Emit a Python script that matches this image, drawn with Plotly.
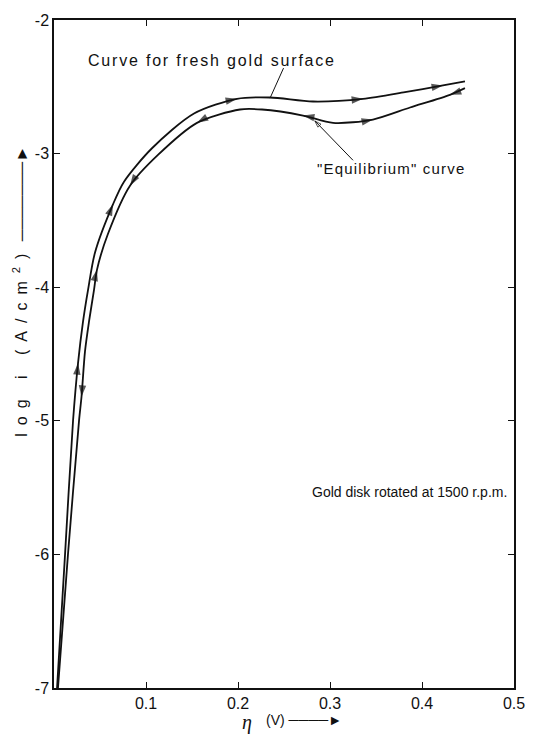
import plotly.graph_objects as go

# ---------------- data ----------------
eta_fresh = [0.0033, 0.0120, 0.0207, 0.0261, 0.0315, 0.0370, 0.0446, 0.0641, 0.0761,
             0.1065, 0.1522, 0.1989, 0.2348, 0.2815, 0.3359, 0.3815, 0.4228, 0.4467]
logi_fresh = [-7.00, -6.00, -5.00, -4.57, -4.26, -4.02, -3.74, -3.38, -3.21,
              -2.96, -2.70, -2.59, -2.58, -2.61, -2.59, -2.54, -2.49, -2.46]

eta_eq = [0.0043, 0.0152, 0.0272, 0.0299, 0.0337, 0.0380, 0.0435, 0.0467, 0.0587, 0.0826,
          0.1130, 0.1554, 0.2022, 0.2261, 0.2707, 0.3033, 0.3467, 0.3870, 0.4304, 0.4467]
logi_eq = [-7.00, -6.00, -5.00, -4.82, -4.48, -4.26, -4.02, -3.87, -3.60, -3.24,
           -3.01, -2.77, -2.67, -2.67, -2.715, -2.77, -2.745, -2.655, -2.56, -2.51]

# arrow heads on the curves: (index on curve, +1 = pointing to larger eta, -1 = reverse)
arrows_fresh = [(3, 1), (7, 1), (11, 1), (14, 1), (16, 1)]
arrows_eq = [(3, -1), (7, 1), (9, -1), (11, -1), (14, -1), (16, 1), (18, -1)]

x_tickvals = [0.1, 0.2, 0.3, 0.4, 0.5]
x_ticktext = ["0.1", "0.2", "0.3", "0.4", "0.5"]
y_tickvals = [-2, -3, -4, -5, -6, -7]
y_ticktext = ["-2", "-3", "-4", "-5", "-6", "-7"]

label_fresh = "Curve for fresh gold surface"
label_eq = "\"Equilibrium\" curve"
label_disk = "Gold disk rotated at 1500 r.p.m."
y_title = "log i (A/cm<sup>2</sup>)"
x_title_sym = "\u03b7"
x_title_unit = "(V)"
title_arrow = "\u2500\u2500\u2500\u2500\u2500\u2500\u2500\u25ba"
x_title_arrow = "\u2500\u2500\u2500\u2500\u25ba"

# pointer lines: (curve point, label end)
ptr_fresh = dict(x0=0.2348, y0=-2.585, x1=0.2495, y1=-2.36)
ptr_eq = dict(x0=0.2835, y0=-2.755, x1=0.325, y1=-3.05)

# ---------------- layout constants ----------------
W, H = 556, 736
ML, MR, MT, MB = 54, 42, 17, 48
PW, PH = W - ML - MR, H - MT - MB
FONT = "Liberation Sans"
INK = "#111111"


def px_to_paper_x(px):
    return (px - ML) / PW


def px_to_paper_y(py):
    return (H - MB - py) / PH


def spaced(text, px):
    return '<span style="letter-spacing:%spx">%s</span>' % (px, text)


fig = go.Figure()

for xs, ys in ((eta_fresh, logi_fresh), (eta_eq, logi_eq)):
    fig.add_trace(go.Scatter(
        x=xs, y=ys, mode="lines",
        line=dict(color=INK, width=1.8, shape="spline", smoothing=0.8),
        hoverinfo="skip", showlegend=False,
    ))


def add_arrows(xs, ys, arrows):
    for i, d in arrows:
        i0 = max(0, min(len(xs) - 1, i - d))
        i1 = max(0, min(len(xs) - 1, i + d))
        tx = xs[i1] - xs[i0]
        ty = ys[i1] - ys[i0]
        fig.add_trace(go.Scatter(
            x=[xs[i] - 0.02 * tx, xs[i]], y=[ys[i] - 0.02 * ty, ys[i]], mode="markers",
            marker=dict(symbol="arrow", size=[0, 12], color=INK,
                        angleref="previous", line=dict(width=0)),
            hoverinfo="skip", showlegend=False,
        ))


add_arrows(eta_fresh, logi_fresh, arrows_fresh)
add_arrows(eta_eq, logi_eq, arrows_eq)

# pointer lines
for p in (ptr_fresh, ptr_eq):
    fig.add_shape(type="line", xref="x", yref="y", line=dict(color=INK, width=1), **p)
# small open head on the equilibrium pointer
fig.add_trace(go.Scatter(
    x=[ptr_eq["x1"], ptr_eq["x0"]], y=[ptr_eq["y1"], ptr_eq["y0"]], mode="markers",
    marker=dict(symbol="arrow-open", size=[0, 7], color=INK, angleref="previous",
                line=dict(width=1, color=INK)),
    hoverinfo="skip", showlegend=False,
))

axis_common = dict(
    showline=True, linecolor=INK, linewidth=1.5, mirror="ticks",
    ticks="inside", ticklen=6, tickwidth=1.2, tickcolor=INK,
    showgrid=False, zeroline=False,
    tickfont=dict(family=FONT, size=16, color=INK),
)

fig.update_layout(
    width=W, height=H,
    margin=dict(l=ML, r=MR, t=MT, b=MB),
    paper_bgcolor="white", plot_bgcolor="white",
    xaxis=dict(range=[0, 0.5], tickvals=x_tickvals, ticktext=x_ticktext, **axis_common),
    yaxis=dict(range=[-7, -2], tickvals=y_tickvals, ticktext=y_ticktext, **axis_common),
    font=dict(family=FONT, color=INK),
)

# text labels
fig.add_annotation(x=0.035, y=-2.30, xref="x", yref="y", text=spaced(label_fresh, 1.8),
                   showarrow=False, xanchor="left", yanchor="middle",
                   font=dict(family=FONT, size=16, color=INK))
fig.add_annotation(x=0.284, y=-3.11, xref="x", yref="y", text=spaced(label_eq, 1.2),
                   showarrow=False, xanchor="left", yanchor="middle",
                   font=dict(family=FONT, size=15, color=INK))
fig.add_annotation(x=0.278, y=-5.53, xref="x", yref="y", text=label_disk,
                   showarrow=False, xanchor="left", yanchor="middle",
                   font=dict(family=FONT, size=14, color=INK))

# y axis title with arrow
fig.add_annotation(x=px_to_paper_x(8), y=px_to_paper_y(290), xref="paper", yref="paper",
                   text=spaced(y_title, 8) + " " + title_arrow, textangle=-90, showarrow=False,
                   font=dict(family=FONT, size=16, color=INK))

# x axis title with arrow
fig.add_annotation(x=px_to_paper_x(247), y=px_to_paper_y(736), xref="paper", yref="paper",
                   yanchor="bottom",
                   text="<i>%s</i>" % x_title_sym, showarrow=False,
                   font=dict(family="Liberation Serif", size=20, color=INK))
fig.add_annotation(x=px_to_paper_x(264), y=px_to_paper_y(730), xref="paper", yref="paper",
                   xanchor="left", yanchor="bottom",
                   text=x_title_unit + " " + x_title_arrow, showarrow=False,
                   font=dict(family=FONT, size=14, color=INK))

fig.write_html("out.html")
